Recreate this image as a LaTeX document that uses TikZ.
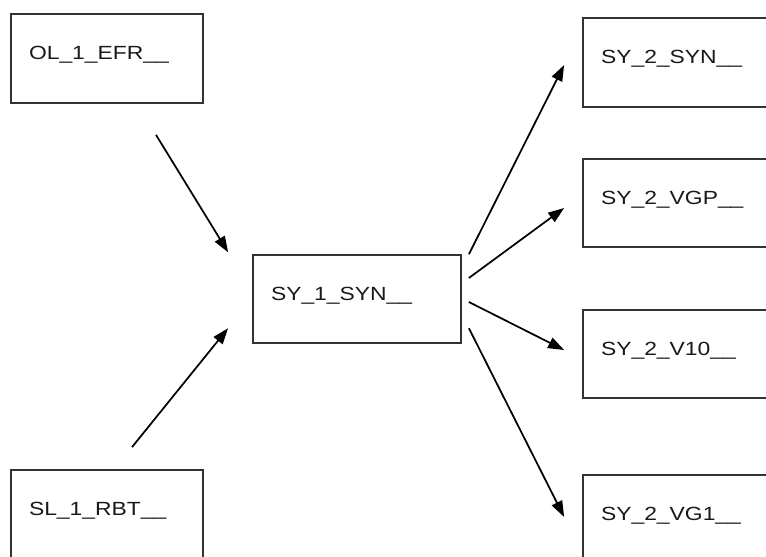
\documentclass[tikz,border=0pt]{standalone}
\usepackage{fontspec}
\setmainfont{Liberation Sans}[FakeStretch=1.2]
\usetikzlibrary{arrows.meta}
\begin{document}
\begin{tikzpicture}[x=0.75pt,y=-0.75pt,
  every node/.style={font=\fontsize{14.3}{17}\selectfont,text=black!90},
  blk/.style={draw=black!80,line width=1.3pt,rectangle,inner xsep=13.5pt,inner ysep=0pt,
    align=left,text height=10pt,text depth=8pt},
  src/.style={blk,minimum width=144pt,minimum height=66.75pt,text width=117pt},
  dst/.style={blk,minimum width=156pt,minimum height=66.5pt,text width=129pt},
  arr/.style={-{Triangle[length=12pt,width=8.5pt]},line width=1.3pt}]
\clip (0,0) rectangle (766,556);
% inputs on the left
\node[src] (efr) at (107,58.5) {OL\_1\_EFR\_\_};
\node[src] (rbt) at (107,514.5) {SL\_1\_RBT\_\_};
% central block
\node[dst] (syn1) at (357,299) {SY\_1\_SYN\_\_};
% outputs on the right (cut by the border)
\node[dst] (syn2) at (687,62.5) {SY\_2\_SYN\_\_};
\node[dst] (vgp) at (687,203) {SY\_2\_VGP\_\_};
\node[dst] (v10) at (687,354) {SY\_2\_V10\_\_};
\node[dst] (vg1) at (687,519.5) {SY\_2\_VG1\_\_};
% arrows into SY_1_SYN
\draw[arr] ([shift={(49,31)}]efr.south) -- ([shift={(-24,-1.5)}]syn1.north west);
\draw[arr] ([shift={(25,-22)}]rbt.north) -- ([shift={(-24,-16)}]syn1.south west);
% arrows out of SY_1_SYN
\draw[arr] ([shift={(7,0.5)}]syn1.north east) -- ([shift={(-18,2.5)}]syn2.west);
\draw[arr] ([shift={(7,-21)}]syn1.east) -- ([shift={(-18,5)}]vgp.west);
\draw[arr] ([shift={(7,3)}]syn1.east) -- ([shift={(-18,-4)}]v10.west);
\draw[arr] ([shift={(7,-16)}]syn1.south east) -- ([shift={(-18,-2.5)}]vg1.west);
\end{tikzpicture}
\end{document}
